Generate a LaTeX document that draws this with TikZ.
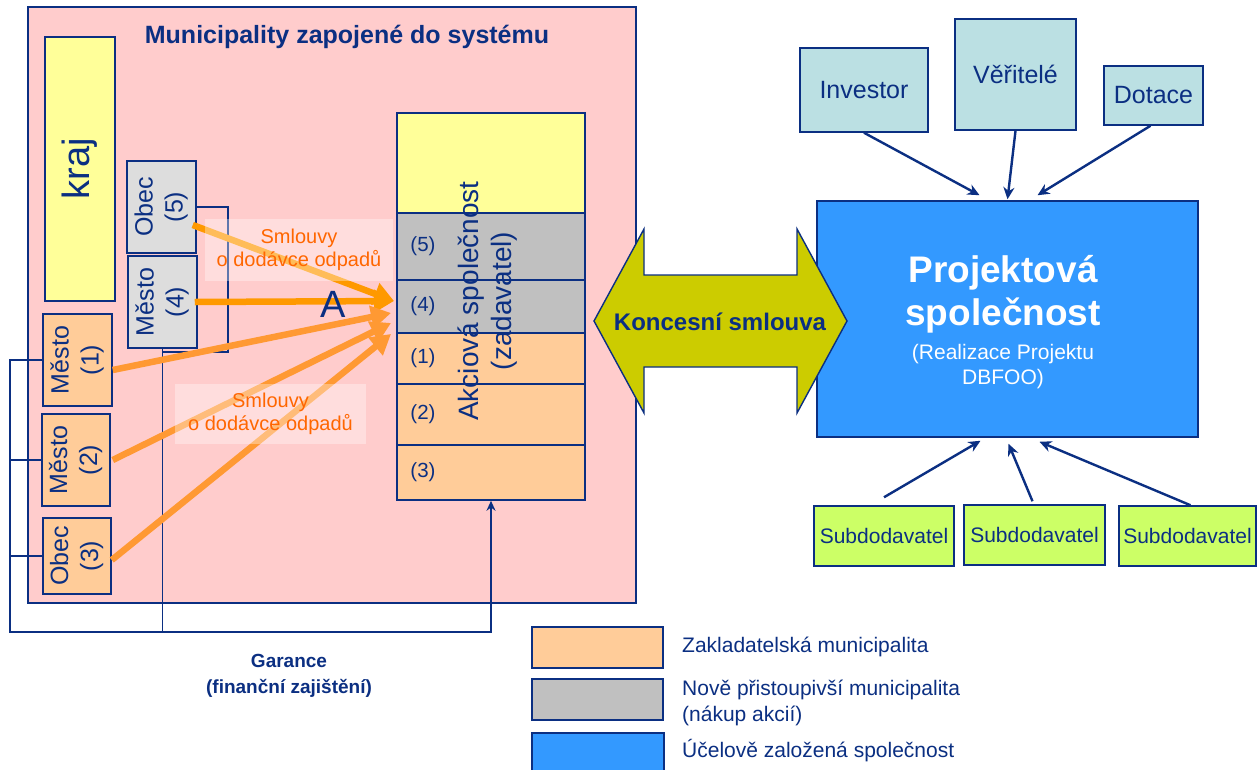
\documentclass[tikz,border=0pt]{standalone}
\usepackage{fontspec}
\usepackage{graphicx}
\setmainfont{Liberation Sans}
\usetikzlibrary{arrows.meta,calc}
\newcommand\fsz[2]{\fontsize{#1}{#2}\selectfont}
\definecolor{dblue}{HTML}{0B2F82}
\definecolor{pinkbg}{HTML}{FFCCCC}
\definecolor{kyellow}{HTML}{FFFF99}
\definecolor{morange}{HTML}{FFCC99}
\definecolor{lgrey}{HTML}{DDDDDD}
\definecolor{mgrey}{HTML}{C0C0C0}
\definecolor{pblue}{HTML}{3399FF}
\definecolor{finbox}{HTML}{BBE0E3}
\definecolor{subgreen}{HTML}{CCFF66}
\definecolor{olivey}{HTML}{CCCC00}
\definecolor{arrOr}{HTML}{FF9900}
\definecolor{arrOrB}{HTML}{FF9933}
\definecolor{smlo}{HTML}{FF6600}
\begin{document}
\begin{tikzpicture}[x=1pt,y=-1pt,
  box/.style={draw=dblue, line width=1.5pt, inner sep=0pt, text=dblue},
  rtxt/.style={font=\fsz{25}{30}},
  bl/.style={draw=dblue, line width=2.4pt},
  narr/.style={draw=dblue, line width=2.4pt, -{Stealth[length=12pt,width=11pt]}},
  oarr/.style={line width=6.5pt, -{Triangle[length=20pt,width=22pt]}},
  smlb/.style={fill=white, fill opacity=0.35, text opacity=1, text=smlo, inner sep=0pt, align=center, font=\fsz{20}{23}},
  slab/.style={text=dblue, font=\fsz{20.5}{23}, anchor=west, inner sep=0pt},
  legt/.style={text=dblue, font=\fsz{21}{26}, anchor=west, inner sep=0pt, align=left}
]
\fill[white] (0,0) rectangle (1257,769);
\useasboundingbox (0,0) rectangle (1257,769);

% municipality area
\node[box, fill=pinkbg, line width=1.4pt, minimum width=608pt, minimum height=596pt] (muni) at (332,305) {};
\node[text=dblue, font=\bfseries\fsz{25}{30}] (title) at (347,37) {Municipality zapojené do systému};

\node[box, fill=kyellow, minimum width=70pt, minimum height=264pt, font=\fsz{38}{40}] (kraj) at (80,169) {\rotatebox{90}{kraj}};

\node[box, fill=lgrey, minimum width=69pt, minimum height=92pt, rtxt] (obec5) at (161.5,207) {\rotatebox{90}{\begin{tabular}{@{}c@{}}Obec\\(5)\end{tabular}}};
\node[box, fill=lgrey, minimum width=69pt, minimum height=92pt, rtxt] (mes4) at (162.5,302) {\rotatebox{90}{\begin{tabular}{@{}c@{}}Město\\(4)\end{tabular}}};
\node[box, fill=morange, minimum width=69pt, minimum height=92pt, rtxt] (mes1) at (77.5,360) {\rotatebox{90}{\begin{tabular}{@{}c@{}}Město\\(1)\end{tabular}}};
\node[box, fill=morange, minimum width=68pt, minimum height=92pt, rtxt] (mes2) at (76,460) {\rotatebox{90}{\begin{tabular}{@{}c@{}}Město\\(2)\end{tabular}}};
\node[box, fill=morange, minimum width=68pt, minimum height=76pt, rtxt] (obec3) at (77,556) {\rotatebox{90}{\begin{tabular}{@{}c@{}}Obec\\(3)\end{tabular}}};

% stack
\node[box, fill=kyellow, minimum width=188pt, minimum height=100pt] (akc0) at (491,163) {};
\node[box, fill=mgrey, minimum width=188pt, minimum height=67pt] (akc5) at (491,246.5) {};
\node[box, fill=mgrey, minimum width=188pt, minimum height=53pt] (akc4) at (491,306.5) {};
\node[box, fill=morange, minimum width=188pt, minimum height=51pt] (akc1) at (491,358.5) {};
\node[box, fill=morange, minimum width=188pt, minimum height=61pt] (akc2) at (491,414.5) {};
\node[box, fill=morange, minimum width=188pt, minimum height=55pt] (akc3) at (491,472.5) {};
\node[slab] at ([xshift=14pt]akc5.west) {(5)};
\node[slab] at ([xshift=14pt]akc4.west) {(4)};
\node[slab] at ([xshift=14pt]akc1.west) {(1)};
\node[slab] at ([xshift=14pt]akc2.west) {(2)};
\node[slab] at ([xshift=14pt]akc3.west) {(3)};
\node[rotate=90, align=center, text=dblue, font=\fsz{28}{33}] (akctxt) at (488,301) {Akciová společnost\\(zadavatel)};

% guarantee lines
\coordinate (gc) at (10,632);
\coordinate (br) at (228,352);
\draw[bl, -{Stealth[length=10pt,width=9pt]}] (mes1.west) -| (gc) -| (akc3.south);
\draw[bl] (mes2.west) -- (mes2.west -| gc);
\draw[bl] (obec3.west) -- (obec3.west -| gc);
\draw[bl] (obec5.east) -| (br) -- (br -| mes4.south);
\draw[bl, line width=1.8pt] (mes4.south) -- (mes4.south |- gc);

% supply arrows
\coordinate (t45) at (394,301);
\coordinate (t1) at (391,313);
\coordinate (t2) at (391,323);
\coordinate (t3) at (391,334);
\draw[oarr, arrOr] ([xshift=-4pt,yshift=-18pt]obec5.east) -- (t45);
\draw[oarr, arrOr] ([xshift=-3pt]mes4.east) -- (t45);
\draw[oarr, arrOrB] ([yshift=-10pt]mes1.east) -- (t1);
\draw[oarr, arrOrB] ([xshift=2pt]mes2.east) -- (t2);
\draw[oarr, arrOrB] ([yshift=-4pt]obec3.east) -- (t3);
\node[smlb, minimum width=188pt, minimum height=62pt] (sml1) at (299,250) {Smlouvy\\o dodávce odpadů};
\node[smlb, minimum width=191pt, minimum height=60pt] (sml2) at (270.5,414) {Smlouvy\\o dodávce odpadů};
\node[text=dblue, font=\fsz{38}{44}, inner sep=0pt] (A) at (333,304) {A};

\node[text=dblue, font=\bfseries\fsz{19}{26}, align=center] (gar) at (289,676) {Garance\\(finanční zajištění)};

% project company
\node[box, fill=pblue, minimum width=381pt, minimum height=236pt] (proj) at (1007.5,319) {};
\node[text=white, font=\bfseries\fsz{37}{43}, align=center] (projt) at (1003,294) {Projektová\\společnost};
\node[text=white, font=\fsz{21}{25}, align=center] (projs) at (1003,367) {(Realizace Projektu\\DBFOO)};

% concession arrow
\draw[draw=dblue, line width=1.4pt, fill=olivey] (594,321) -- (644,229) -- (644,275) -- (797,275) -- (797,229) -- (847,321) -- (797,413) -- (797,367) -- (644,367) -- (644,413) -- cycle;
\node[text=dblue, font=\bfseries\fsz{24}{28}] (konc) at (720,322) {Koncesní smlouva};

% financiers
\node[box, fill=finbox, minimum width=128pt, minimum height=84pt, font=\fsz{25}{30}] (inv) at (864,90) {Investor};
\node[box, fill=finbox, minimum width=121pt, minimum height=111pt, font=\fsz{25}{30}] (ver) at (1015.5,74.5) {Věřitelé};
\node[box, fill=finbox, minimum width=99pt, minimum height=59pt, font=\fsz{25}{30}] (dot) at (1153.5,95.5) {Dotace};
\draw[narr] (inv.south) -- ([xshift=-28pt,yshift=5pt]proj.north);
\draw[narr] (ver.south) -- ([yshift=1pt]proj.north);
\draw[narr] ([xshift=-3pt]dot.south) -- ([xshift=30pt,yshift=5pt]proj.north);

% subcontractors
\node[box, fill=subgreen, minimum width=140pt, minimum height=60pt, font=\fsz{21}{25}] (sub1) at (884,536) {Subdodavatel};
\node[box, fill=subgreen, minimum width=141pt, minimum height=60pt, font=\fsz{21}{25}] (sub2) at (1034.5,535) {Subdodavatel};
\node[box, fill=subgreen, minimum width=137pt, minimum height=60pt, font=\fsz{21}{25}] (sub3) at (1187.5,536) {Subdodavatel};
\draw[narr] ([yshift=8pt]sub1.north) -- ([xshift=-27pt,yshift=-3pt]proj.south);
\draw[narr] ([xshift=-2pt,yshift=3pt]sub2.north) -- ([xshift=1pt,yshift=-6pt]proj.south);
\draw[narr] ([xshift=3pt]sub3.north) -- ([xshift=32pt,yshift=-4pt]proj.south);

% legend
\node[box, fill=morange, minimum width=131pt, minimum height=41pt] (lg1) at (597.5,647.5) {};
\node[box, fill=mgrey, minimum width=131pt, minimum height=41pt] (lg2) at (597.5,699.5) {};
\node[box, fill=pblue, minimum width=132pt, minimum height=42pt] (lg3) at (598,754) {};
\node[legt] (lt1) at (682,647) {Zakladatelská municipalita};
\node[legt] (lt2) at (682,703) {Nově přistoupivší municipalita\\(nákup akcií)};
\node[legt] (lt3) at (682,751) {Účelově založená společnost};
\end{tikzpicture}
\end{document}
